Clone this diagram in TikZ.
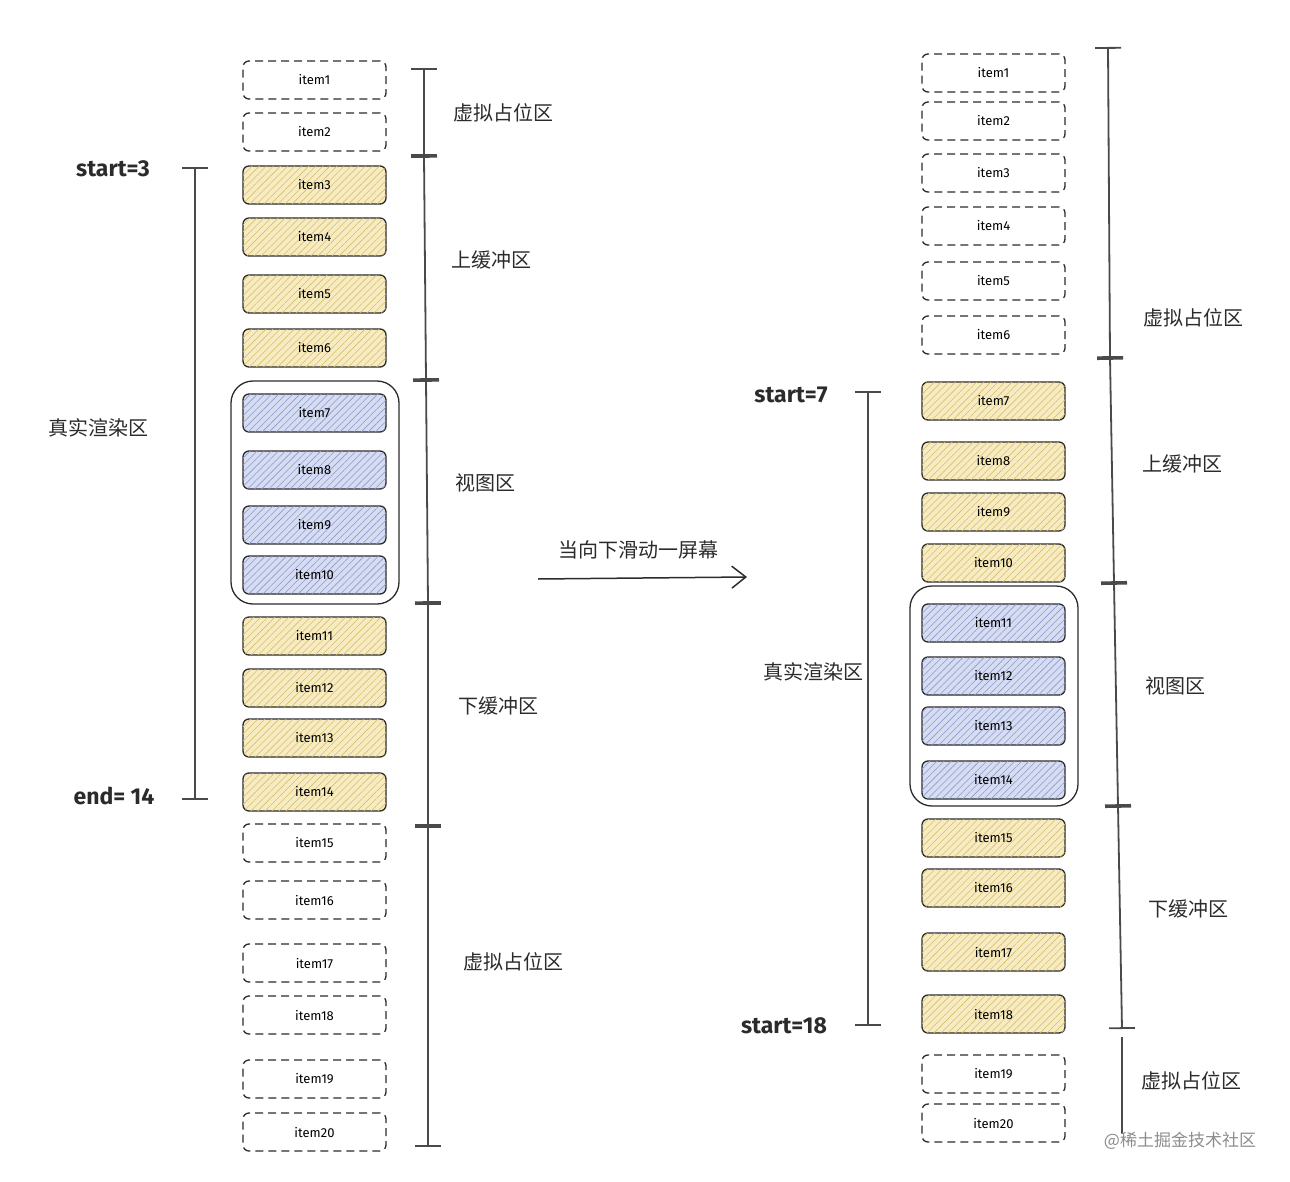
\documentclass[tikz,border=0pt]{standalone}
\usepackage{fontspec}
\setmainfont{Fira Sans}
\newfontfamily\cjk{Noto Sans CJK SC}
\usetikzlibrary{arrows.meta,patterns.meta}
\definecolor{ink}{HTML}{2B2B2B}
\definecolor{ink2}{HTML}{4A4A4A}
\definecolor{yel}{HTML}{F7EBC2}
\definecolor{yelh}{HTML}{D9BE6E}
\definecolor{blu}{HTML}{D6DCF1}
\definecolor{bluh}{HTML}{8C9BCB}
\begin{document}
\begin{tikzpicture}[x=1pt,y=-1pt,
  item/.style={draw=ink, line width=1.3pt, rounded corners=6pt, minimum width=143pt, minimum height=38pt, inner sep=0pt, font=\fontsize{13}{14}\selectfont},
  virt/.style={item, dash pattern=on 8pt off 5pt},
  buf/.style={item, fill=yel, postaction={pattern={Lines[angle=45,distance=5pt,line width=0.6pt]}, pattern color=yelh}},
  view/.style={item, fill=blu, postaction={pattern={Lines[angle=45,distance=5pt,line width=0.6pt]}, pattern color=bluh}},
  frame/.style={draw=ink, line width=1.3pt, rounded corners=22pt, minimum width=168pt, minimum height=223pt, inner sep=0pt},
  brk/.style={draw=ink2, line width=1.8pt, {Bar[width=26pt,line width=1.8pt]}-{Bar[width=26pt,line width=1.8pt]}},
  plainbrk/.style={draw=ink2, line width=1.8pt},
  zone/.style={font=\cjk\fontsize{20}{22}\selectfont, text=ink},
  idx/.style={font=\fontsize{23}{24}\selectfont\bfseries, text=ink},
  wmark/.style={font=\cjk\fontsize{17}{19}\selectfont, text=black!45}
]
\useasboundingbox (0,0) rectangle (1290,1182);

% ---------- left column ----------
\node[frame] (viewL) at (315,492.5) {};
\node[virt] (L1) at (314.5,80) {item1};
\node[virt] (L2) at (314.5,132) {item2};
\node[buf] (L3) at (314.5,185) {item3};
\node[buf] (L4) at (314.5,237) {item4};
\node[buf] (L5) at (314.5,294) {item5};
\node[buf] (L6) at (314.5,348) {item6};
\node[view] (L7) at (314.5,413) {item7};
\node[view] (L8) at (314.5,470) {item8};
\node[view] (L9) at (314.5,525) {item9};
\node[view] (L10) at (314.5,575) {item10};
\node[buf] (L11) at (314.5,636) {item11};
\node[buf] (L12) at (314.5,688) {item12};
\node[buf] (L13) at (314.5,738) {item13};
\node[buf] (L14) at (314.5,792) {item14};
\node[virt] (L15) at (314.5,843) {item15};
\node[virt] (L16) at (314.5,900) {item16};
\node[virt] (L17) at (314.5,963) {item17};
\node[virt] (L18) at (314.5,1015) {item18};
\node[virt] (L19) at (314.5,1079) {item19};
\node[virt] (L20) at (314.5,1132) {item20};

\coordinate (lb0) at (424,68);
\coordinate (lb1) at (424,156);
\coordinate (lb2) at (426,380);
\coordinate (lb3) at (428,603);
\coordinate (lb4) at (428,826);
\coordinate (lb5) at (428,1147);
\draw[brk] (lb0) -- (lb1);
\draw[brk] (lb1) -- (lb2);
\draw[brk] (lb2) -- (lb3);
\draw[brk] (lb3) -- (lb4);
\draw[brk] (lb4) -- (lb5);
\node[zone] (zL1) at (503,113) {虚拟占位区};
\node[zone] (zL2) at (491,260) {上缓冲区};
\node[zone] (zL3) at (485,483) {视图区};
\node[zone] (zL4) at (498,706) {下缓冲区};
\node[zone] (zL5) at (513,962) {虚拟占位区};

\coordinate (lr0) at (195,167);
\coordinate (lr1) at (195,800);
\draw[brk] (lr0) -- (lr1);
\node[zone] (realL) at (98,428) {真实渲染区};
\node[idx] (startL) at (113,169) {start=3};
\node[idx] (endL) at (114,796) {end= 14};

% ---------- arrow ----------
\coordinate (a1) at (538,579);
\coordinate (a2) at (747,577);
\draw[draw=ink, line width=1.5pt, -{Straight Barb[length=14pt,width=22pt,line width=1.5pt]}] (a1) -- (a2);
\node[zone] (move) at (638,550) {当向下滑动一屏幕};

% ---------- right column ----------
\node[frame, minimum height=220pt] (viewR) at (994,696) {};
\node[virt] (R1) at (993.5,73) {item1};
\node[virt] (R2) at (993.5,121) {item2};
\node[virt] (R3) at (993.5,173) {item3};
\node[virt] (R4) at (993.5,226) {item4};
\node[virt] (R5) at (993.5,281) {item5};
\node[virt] (R6) at (993.5,335) {item6};
\node[buf] (R7) at (993.5,401) {item7};
\node[buf] (R8) at (993.5,461) {item8};
\node[buf] (R9) at (993.5,512) {item9};
\node[buf] (R10) at (993.5,563) {item10};
\node[view] (R11) at (993.5,623) {item11};
\node[view] (R12) at (993.5,676) {item12};
\node[view] (R13) at (993.5,726) {item13};
\node[view] (R14) at (993.5,780) {item14};
\node[buf] (R15) at (993.5,838) {item15};
\node[buf] (R16) at (993.5,888) {item16};
\node[buf] (R17) at (993.5,952) {item17};
\node[buf] (R18) at (993.5,1014) {item18};
\node[virt] (R19) at (993.5,1074) {item19};
\node[virt] (R20) at (993.5,1123) {item20};

\coordinate (rb0) at (1108,47);
\coordinate (rb1) at (1110,358);
\coordinate (rb2) at (1114,583);
\coordinate (rb3) at (1118,806);
\coordinate (rb4) at (1122,1029);
\coordinate (rb5) at (1122,1037);
\coordinate (rb6) at (1122,1134);
\draw[brk] (rb0) -- (rb1);
\draw[brk] (rb1) -- (rb2);
\draw[brk] (rb2) -- (rb3);
\draw[brk] (rb3) -- (rb4);
\draw[plainbrk] (rb5) -- (rb6);
\node[zone] (zR1) at (1193,318) {虚拟占位区};
\node[zone] (zR2) at (1182,464) {上缓冲区};
\node[zone] (zR3) at (1175,686) {视图区};
\node[zone] (zR4) at (1188,909) {下缓冲区};
\node[zone] (zR5) at (1191,1081) {虚拟占位区};

\coordinate (rr0) at (868,391);
\coordinate (rr1) at (868,1026);
\draw[brk] (rr0) -- (rr1);
\node[zone] (realR) at (813,672) {真实渲染区};
\node[idx] (startR) at (791,395) {start=7};
\node[idx] (endR) at (784,1026) {start=18};

\node[wmark] (wm) at (1180,1141) {@稀土掘金技术社区};
\end{tikzpicture}
\end{document}
